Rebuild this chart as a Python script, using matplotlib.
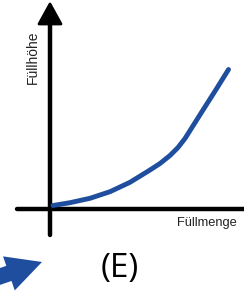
import matplotlib
matplotlib.use("Agg")
import matplotlib.pyplot as plt

# curve (axes origin = 0,0)
menge = [0.03, 0.20, 0.40, 0.60, 0.80, 1.00, 1.10, 1.20, 1.28, 1.35, 1.53, 1.67, 1.785]
hoehe = [0.035, 0.063, 0.107, 0.173, 0.267, 0.39, 0.455, 0.535, 0.615, 0.705, 0.99, 1.21, 1.395]

x_label = "Füllmenge"
y_label = "Füllhöhe"
panel = "(E)"

blue = "#1f4e9e"

fig = plt.figure(figsize=(2.44, 2.96), dpi=100)
ax = fig.add_axes([0, 0, 1, 1])
ax.set_xlim(-0.50, 1.94)
ax.set_ylim(-0.87, 2.09)
ax.axis("off")

# axes cross
ax.plot([-0.33, 1.94], [0, 0], color="black", lw=3.2, solid_capstyle="round")
ax.plot([0, 0], [-0.26, 1.88], color="black", lw=3.2, solid_capstyle="round")
ax.fill([-0.11, 0.11, 0], [1.85, 1.85, 2.05], color="black", joinstyle="round", lw=2, ec="black")

# curve
ax.plot(menge, hoehe, color=blue, lw=3.5, solid_capstyle="round", solid_joinstyle="round")

ax.text(-0.17, 1.52, y_label, rotation=90, ha="center", va="center",
        fontsize=10, family="Liberation Sans", color="#222222")
ax.text(1.57, -0.14, x_label, ha="center", va="center",
        fontsize=9.3, family="Liberation Sans", color="#222222")
ax.text(0.70, -0.59, panel, ha="center", va="center",
        fontsize=24, family="Open Sans", color="black")

# blue pointer arrow at the bottom left
ax.arrow(-0.69, -0.74, 0.61, 0.21, width=0.16, head_width=0.36, head_length=0.35,
         length_includes_head=True, color=blue, lw=0)

fig.savefig("out.png", dpi=100)
